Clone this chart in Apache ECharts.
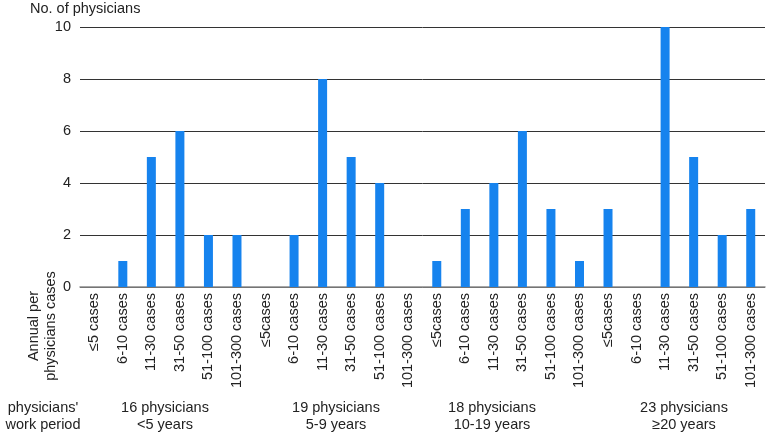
<!DOCTYPE html>
<html>
<head>
<meta charset="utf-8">
<script src="https://cdn.jsdelivr.net/npm/echarts@6/dist/echarts.min.js"></script>
<style>
html,body{margin:0;padding:0;background:#fff;}
#c{width:775px;height:432px;}
</style>
</head>
<body>
<div id="c"></div>
<script>
const categories = [
  '≤5 cases','6-10 cases','11-30 cases','31-50 cases','51-100 cases','101-300 cases',
  '≤5cases','6-10 cases','11-30 cases','31-50 cases','51-100 cases','101-300 cases',
  '≤5cases','6-10 cases','11-30 cases','31-50 cases','51-100 cases','101-300 cases',
  '≤5cases','6-10 cases','11-30 cases','31-50 cases','51-100 cases','101-300 cases'
];
const values = [
  0,1,5,6,2,2,
  0,2,8,5,4,0,
  1,3,4,6,3,1,
  3,0,10,5,2,3
];
const yTicks = [0,2,4,6,8,10];
const groupLabels = [
  '16 physicians\n<5 years',
  '19 physicians\n5-9 years',
  '18 physicians\n10-19 years',
  '23 physicians\n≥20 years'
];
const yAxisTitle = 'No. of physicians';
const xAxisTitle = 'Annual per\nphysicians cases';
const groupTitle = "physicians'\nwork period";

const FONT = '"Liberation Sans", Arial, Helvetica, sans-serif';
const FS = 14.5;
const chart = echarts.init(document.getElementById('c'));
const groupX = [165, 336, 492, 684];

chart.setOption({
  animation: false,
  textStyle: {fontFamily: FONT},
  grid: {left: 80, right: 10, top: 27, bottom: 145, containLabel: false},
  xAxis: {
    type: 'category',
    data: categories,
    axisLine: {show: true, lineStyle: {color: '#8a8a8a', width: 1.5}},
    axisTick: {show: false},
    axisLabel: {rotate: 90, margin: 6, fontSize: FS, color: '#222', fontFamily: FONT, interval: 0}
  },
  yAxis: {
    type: 'value',
    min: yTicks[0],
    max: yTicks[yTicks.length - 1],
    interval: 2,
    axisLine: {show: false},
    axisTick: {show: false},
    axisLabel: {fontSize: FS, color: '#222', margin: 9, fontFamily: FONT},
    splitLine: {show: true, lineStyle: {color: '#333', width: 1}}
  },
  series: [{
    type: 'bar',
    data: values,
    barWidth: 9,
    itemStyle: {color: '#1683ee'}
  }],
  graphic: [
    {type: 'text', left: 30, top: 1, style: {text: yAxisTitle, fontSize: FS, fill: '#222', fontFamily: FONT}},
    {type: 'text', x: 42, y: 326, rotation: Math.PI / 2,
      style: {text: xAxisTitle, fontSize: FS, fill: '#222', fontFamily: FONT, align: 'center', verticalAlign: 'middle', lineHeight: 17}},
    {type: 'text', x: 43, y: 416,
      style: {text: groupTitle, fontSize: FS, fill: '#222', fontFamily: FONT, align: 'center', verticalAlign: 'middle', lineHeight: 17}}
  ].concat(groupLabels.map((t, i) => ({
    type: 'text', x: groupX[i], y: 416,
    style: {text: t, fontSize: FS, fill: '#222', fontFamily: FONT, align: 'center', verticalAlign: 'middle', lineHeight: 17}
  })))
});
</script>
</body>
</html>
